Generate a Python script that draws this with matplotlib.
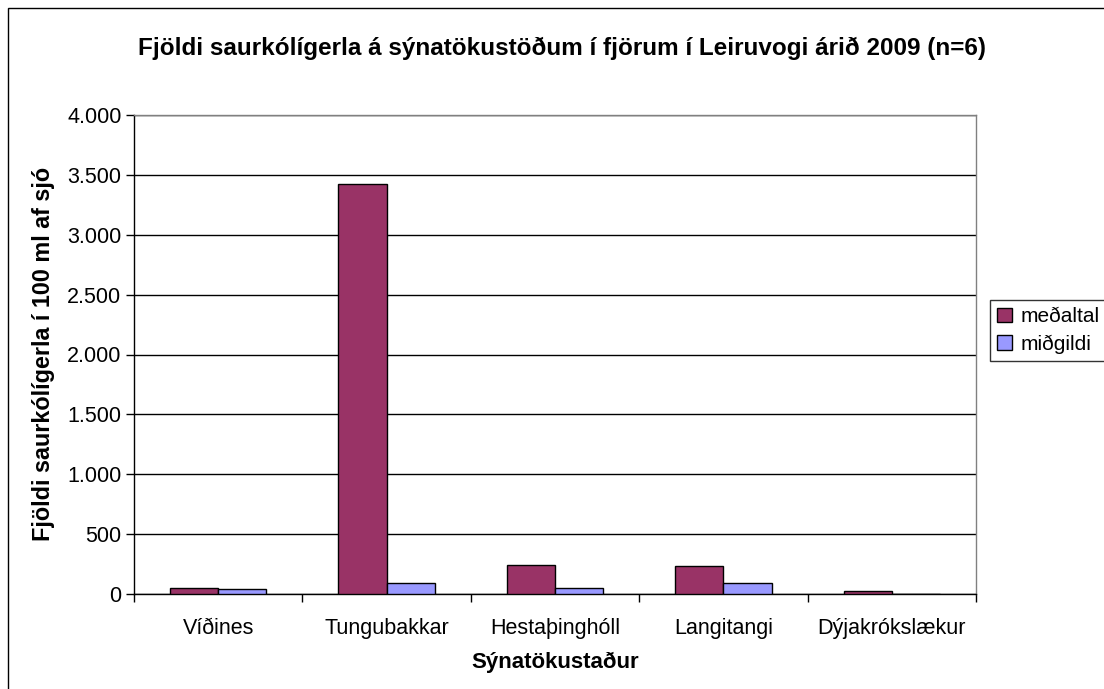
import matplotlib.pyplot as plt
from matplotlib.patches import Rectangle
from matplotlib.ticker import FuncFormatter
import numpy as np

plt.rcParams['font.family'] = ['Liberation Sans', 'DejaVu Sans']

stations = ['Víðines', 'Tungubakkar', 'Hestaþinghóll', 'Langitangi', 'Dýjakrókslækur']
medaltal = [50, 3420, 245, 235, 25]
midgildi = [38, 90, 52, 90, 3]

W, H = 1104, 689
fig = plt.figure(figsize=(W / 100, H / 100), dpi=100)

# outer chart border (cut off at right and bottom)
fig.patches.append(Rectangle((8 / W, -0.1), 1.2, 1.1 - 8 / H, transform=fig.transFigure,
                             fill=False, edgecolor='black', linewidth=1))

ax = fig.add_axes([134 / W, (H - 594) / H, (976 - 134) / W, (594 - 115) / H])

x = np.arange(len(stations))
w = 1 / 3.5
ax.bar(x - w / 2, medaltal, w, color='#993366', edgecolor='black', linewidth=1, label='meðaltal', zorder=3)
ax.bar(x + w / 2, midgildi, w, color='#9999FF', edgecolor='black', linewidth=1, label='miðgildi', zorder=3)

ax.set_xlim(-0.5, len(stations) - 0.5)
ax.set_ylim(0, 4000)
ax.set_yticks(np.arange(0, 4001, 500))
ax.yaxis.set_major_formatter(FuncFormatter(lambda v, p: f'{int(v):,}'.replace(',', '.')))
ax.yaxis.grid(True, color='black', linewidth=1, zorder=0)

ax.set_xticks(np.arange(-0.5, len(stations), 1))
ax.set_xticklabels([])
ax.set_xticks(x, minor=True)
ax.set_xticklabels(stations, minor=True)
ax.tick_params(axis='x', which='major', length=6, direction='out', width=1)
ax.tick_params(axis='x', which='minor', length=0, pad=17, labelsize=15.5)
ax.tick_params(axis='y', length=6, direction='out', width=1, labelsize=15.5, pad=3)

for s in ax.spines.values():
    s.set_color('#808080')
    s.set_linewidth(1)
ax.spines['bottom'].set_color('black')
ax.spines['left'].set_color('black')

fig.text(555 / W, 1 - 662 / H, 'Sýnatökustaður', ha='center', va='center',
         fontsize=16, fontweight='bold')
fig.text(44 / W, 1 - 354 / H, 'Fjöldi saurkólígerla í 100 ml af sjó', ha='center', va='center',
         rotation=90, fontsize=16.8, fontweight='bold')

fig.text(562 / W, 1 - 48 / H, 'Fjöldi saurkólígerla á sýnatökustöðum í fjörum í Leiruvogi árið 2009 (n=6)',
         ha='center', va='center', fontsize=17.5, fontweight='bold')

leg = fig.legend(loc='upper left', bbox_to_anchor=(990 / W, 1 - 300 / H), fontsize=15,
                 frameon=True, fancybox=False, edgecolor='black', handlelength=0.7,
                 handleheight=0.7, handletextpad=0.4, borderpad=0.35, labelspacing=0.4,
                 borderaxespad=0)
leg.get_frame().set_linewidth(1)

fig.savefig('out.png', dpi=100)
